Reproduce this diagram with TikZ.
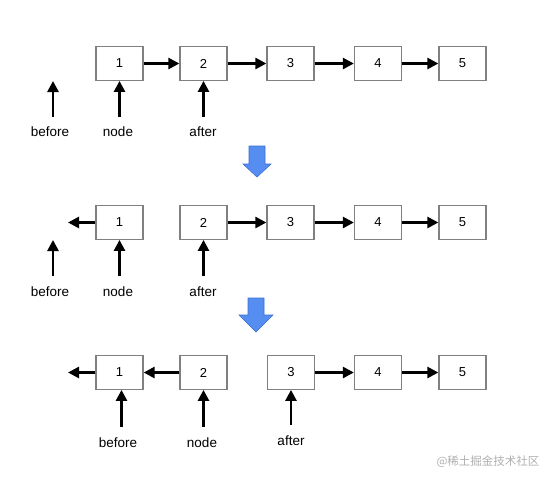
\documentclass[tikz,border=0pt]{standalone}
\usepackage{fontspec}
\setmainfont{Liberation Sans}
\newfontfamily\cjkfont{Noto Sans CJK SC}
\usetikzlibrary{arrows.meta}
\definecolor{boxgray}{RGB}{128,128,128}
\definecolor{bluefill}{RGB}{86,141,240}
\definecolor{blueedge}{RGB}{60,110,210}
\definecolor{wmgray}{RGB}{175,175,175}
\tikzset{
  lbox/.style={draw=boxgray,line width=1.3pt,minimum width=47pt,minimum height=33.5pt,inner sep=0pt,font=\fontsize{13}{15}\selectfont},
  arr/.style={line width=2.6pt,-{Triangle[length=11pt,width=11pt]}},
  lbl/.style={font=\fontsize{13.5}{16}\selectfont,inner sep=0pt},
  bluearrow/.style={fill=bluefill,draw=blueedge,line width=0.6pt,line join=miter}
}
\begin{document}
\begin{tikzpicture}[x=1pt,y=-1pt]
\useasboundingbox (0,0) rectangle (555,483);
% ---------- Row 1 ----------
\node[lbox] (a1) at (119.5,63.5) {1};
\node[lbox] (a2) at (203.5,63.5) {2};
\node[lbox] (a3) at (290.5,63.5) {3};
\node[lbox] (a4) at (378,63.5) {4};
\node[lbox] (a5) at (462.5,63.5) {5};
\draw[arr] (a1) -- (a2);
\draw[arr] (a2) -- (a3);
\draw[arr] (a3) -- (a4);
\draw[arr] (a4) -- (a5);
\coordinate (b1s) at (53,117);
\coordinate (b1t) at (53,81);
\draw[arr] (b1s) -- (b1t);
\coordinate (n1s) at (119.5,117);
\draw[arr] (n1s) -- (a1.south);
\coordinate (f1s) at (203.5,117);
\draw[arr] (f1s) -- (a2.south);
\node[lbl] (lb1) at (50,132) {before};
\node[lbl] (ln1) at (118,132) {node};
\node[lbl] (lf1) at (203,132) {after};
% blue arrow 1
\draw[bluearrow] (249,146) -- (265,146) -- (265,164) -- (271,164) -- (257,177) -- (243,164) -- (249,164) -- cycle;
% ---------- Row 2 ----------
\node[lbox] (c1) at (119.5,222.5) {1};
\node[lbox] (c2) at (203.5,222.5) {2};
\node[lbox] (c3) at (290.5,222.5) {3};
\node[lbox] (c4) at (378,222.5) {4};
\node[lbox] (c5) at (462.5,222.5) {5};
\coordinate (c0) at (68,222.5);
\draw[arr] (c1) -- (c0);
\draw[arr] (c2) -- (c3);
\draw[arr] (c3) -- (c4);
\draw[arr] (c4) -- (c5);
\coordinate (b2s) at (53,276);
\coordinate (b2t) at (53,240);
\draw[arr] (b2s) -- (b2t);
\coordinate (n2s) at (119.5,276);
\draw[arr] (n2s) -- (c1.south);
\coordinate (f2s) at (203.5,276);
\draw[arr] (f2s) -- (c2.south);
\node[lbl] (lb2) at (50,292) {before};
\node[lbl] (ln2) at (118,292) {node};
\node[lbl] (lf2) at (203,292) {after};
% blue arrow 2
\draw[bluearrow] (248,298) -- (264,298) -- (264,315) -- (273,315) -- (256,332) -- (239,315) -- (248,315) -- cycle;
% ---------- Row 3 ----------
\node[lbox] (d1) at (119.5,372.5) {1};
\node[lbox] (d2) at (203.5,372.5) {2};
\node[lbox] (d3) at (291,372.5) {3};
\node[lbox] (d4) at (378,372.5) {4};
\node[lbox] (d5) at (462.5,372.5) {5};
\coordinate (d0) at (68,372.5);
\draw[arr] (d1) -- (d0);
\draw[arr] (d2) -- (d1);
\draw[arr] (d3) -- (d4);
\draw[arr] (d4) -- (d5);
\coordinate (b3s) at (121.5,427);
\draw[arr] (b3s) -- (b3s |- d1.south);
\coordinate (n3s) at (203.5,427);
\draw[arr] (n3s) -- (d2.south);
\coordinate (f3s) at (291,425);
\draw[arr] (f3s) -- (d3.south);
\node[lbl] (lb3) at (118,443) {before};
\node[lbl] (ln3) at (202,443) {node};
\node[lbl] (lf3) at (291,441) {after};
% watermark
\node[font=\cjkfont\fontsize{11.5}{13}\selectfont,text=wmgray,inner sep=0pt] (wm) at (488,462) {@稀土掘金技术社区};
\end{tikzpicture}
\end{document}
